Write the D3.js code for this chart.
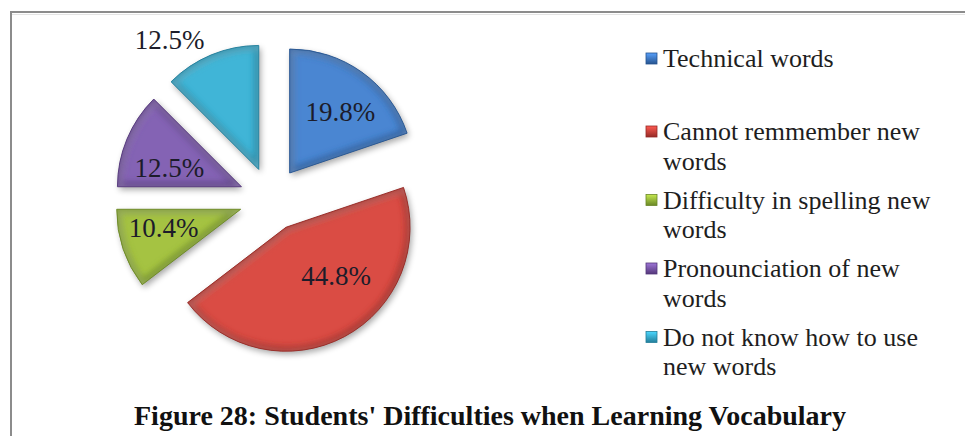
<!DOCTYPE html>
<html>
<head>
<meta charset="utf-8">
<script src="https://cdn.jsdelivr.net/npm/d3@7"></script>
<style>
  html, body { margin: 0; padding: 0; background: #fff; }
  svg { display: block; }
</style>
</head>
<body>
<svg id="chart" width="965" height="436"></svg>
<script>
// Survey answers: difficulties students report when learning vocabulary
const categories = [
  "Technical words",
  "Cannot remmember new words",
  "Difficulty in spelling new words",
  "Pronounciation of new words",
  "Do not know how to use new words"
];
const percentages = [19.8, 44.8, 10.4, 12.5, 12.5];
const titleText = "Figure 28: Students' Difficulties when Learning Vocabulary";

// Office-style palette: main fill and a darker edge tone per slice
const fills = ["#4a86d2", "#da4c44", "#a5c342", "#8463b4", "#40b5d7"];
const edges = ["#27548f", "#952a26", "#6a8727", "#54377a", "#237e9a"];

const width = 965, height = 436;
const cx = 271, cy = 199, radius = 124, explode = 32;
const serif = "\"Liberation Serif\", \"Times New Roman\", Tinos, serif";

const svg = d3.select("#chart");
const defs = svg.append("defs");

// soft drop shadow under the slices
const shadow = defs.append("filter").attr("id", "shadow")
  .attr("x", "-20%").attr("y", "-20%").attr("width", "140%").attr("height", "140%");
shadow.append("feGaussianBlur").attr("in", "SourceAlpha").attr("stdDeviation", 3).attr("result", "b");
shadow.append("feOffset").attr("in", "b").attr("dx", 2).attr("dy", 3).attr("result", "o");
shadow.append("feComponentTransfer").attr("in", "o")
  .append("feFuncA").attr("type", "linear").attr("slope", 0.35);

// blur used for the rounded bevel rim
defs.append("filter").attr("id", "rim")
  .attr("x", "-20%").attr("y", "-20%").attr("width", "140%").attr("height", "140%")
  .append("feGaussianBlur").attr("stdDeviation", 3);

// frame around the figure
svg.append("line").attr("x1", 10).attr("x2", width).attr("y1", 12).attr("y2", 12)
  .attr("stroke", "#8c8c8c").attr("stroke-width", 2);
svg.append("line").attr("x1", 11).attr("x2", 11).attr("y1", 11).attr("y2", height)
  .attr("stroke", "#8c8c8c").attr("stroke-width", 2);
svg.append("line").attr("x1", 12).attr("x2", width).attr("y1", 14.5).attr("y2", 14.5)
  .attr("stroke", "#e4e4e4").attr("stroke-width", 1);

const data = categories.map((c, i) => ({ name: c, value: percentages[i], i }));

const pie = d3.pie().sort(null).value(d => d.value).startAngle(0).endAngle(2 * Math.PI);
const arcs = pie(data);
const arc = d3.arc().innerRadius(0).outerRadius(radius);

const offsetOf = a => {
  const m = (a.startAngle + a.endAngle) / 2;
  return [Math.sin(m) * explode, -Math.cos(m) * explode];
};

const pieG = svg.append("g").attr("transform", `translate(${cx},${cy})`);

// shadows first, so every slice sits above all shadows
pieG.selectAll("path.shadow").data(arcs).join("path")
  .attr("class", "shadow")
  .attr("transform", a => `translate(${offsetOf(a)})`)
  .attr("d", arc)
  .attr("fill", "#000")
  .attr("filter", "url(#shadow)");

const slice = pieG.selectAll("g.slice").data(arcs).join("g")
  .attr("class", "slice")
  .attr("transform", a => `translate(${offsetOf(a)})`);

slice.each(function (a) {
  const g = d3.select(this);
  const id = "clip" + a.data.i;
  defs.append("clipPath").attr("id", id).append("path").attr("d", arc(a));
  g.append("path").attr("d", arc(a)).attr("fill", fills[a.data.i]);
  const inner = g.append("g").attr("clip-path", `url(#${id})`);
  // darker rounded rim inside the edge
  inner.append("path").attr("d", arc(a))
    .attr("fill", "none").attr("stroke", edges[a.data.i])
    .attr("stroke-width", 9).attr("stroke-opacity", 0.8)
    .attr("stroke-linejoin", "round")
    .attr("filter", "url(#rim)");
  // light sheen just inside the rim
  inner.append("path").attr("d", arc(a))
    .attr("transform", "translate(2,2)")
    .attr("fill", "none").attr("stroke", "#ffffff")
    .attr("stroke-width", 4).attr("stroke-opacity", 0.3)
    .attr("filter", "url(#rim)");
  g.append("path").attr("d", arc(a))
    .attr("fill", "none").attr("stroke", edges[a.data.i])
    .attr("stroke-width", 1).attr("stroke-opacity", 0.9)
    .attr("stroke-linejoin", "round");
});

// data labels: radius as a fraction of the pie radius, with a small angular nudge (deg)
const labelRadius = [0.64, 0.56, 0.64, 0.60, 1.27];
const labelNudge = [4, -18, 5, -8, -12];
slice.append("text")
  .attr("transform", a => {
    const m = (a.startAngle + a.endAngle) / 2 + labelNudge[a.data.i] * Math.PI / 180;
    const rr = radius * labelRadius[a.data.i];
    return `translate(${Math.sin(m) * rr},${-Math.cos(m) * rr})`;
  })
  .attr("text-anchor", "middle")
  .attr("dy", "0.34em")
  .style("font-family", serif)
  .attr("font-size", 27)
  .attr("fill", "#1c1c2a")
  .text(a => d3.format(".1f")(a.data.value) + "%");

// legend with wrapped entry text
const legendX = 646, markerSize = 11, textX = 663, wrapWidth = 282;
const lineH = 29.5, legendTop = 67, firstGap = 73, entryStep = 68.5;
const legend = svg.append("g");

const measure = legend.append("text").style("font-family", serif).attr("font-size", 26);
function wrap(str) {
  const words = str.split(" ");
  const lines = [];
  let cur = "";
  for (const w of words) {
    const test = cur ? cur + " " + w : w;
    measure.text(test);
    if (cur && measure.node().getComputedTextLength() > wrapWidth) {
      lines.push(cur); cur = w;
    } else cur = test;
  }
  lines.push(cur);
  return lines;
}

data.forEach((d, i) => {
  const y0 = i === 0 ? legendTop : legendTop + firstGap + (i - 1) * entryStep;
  const grad = defs.append("linearGradient").attr("id", "lg" + i)
    .attr("x1", 0).attr("y1", 0).attr("x2", 0).attr("y2", 1);
  grad.append("stop").attr("offset", "0%").attr("stop-color", d3.color(fills[i]).brighter(0.5));
  grad.append("stop").attr("offset", "100%").attr("stop-color", edges[i]);
  legend.append("rect")
    .attr("x", legendX).attr("y", y0 - 14).attr("width", markerSize).attr("height", markerSize)
    .attr("fill", `url(#lg${i})`).attr("stroke", edges[i]).attr("stroke-width", 0.8);
  const t = legend.append("text")
    .style("font-family", serif).attr("font-size", 26).attr("fill", "#1e1e1e");
  wrap(d.name).forEach((ln, k) => {
    t.append("tspan").attr("x", textX).attr("y", y0 + k * lineH).text(ln);
  });
});
measure.remove();

// figure caption
svg.append("text")
  .attr("x", 490).attr("y", 425)
  .attr("text-anchor", "middle")
  .style("font-family", serif)
  .attr("font-weight", "bold")
  .attr("font-size", 28)
  .attr("fill", "#111")
  .text(titleText);
</script>
</body>
</html>
